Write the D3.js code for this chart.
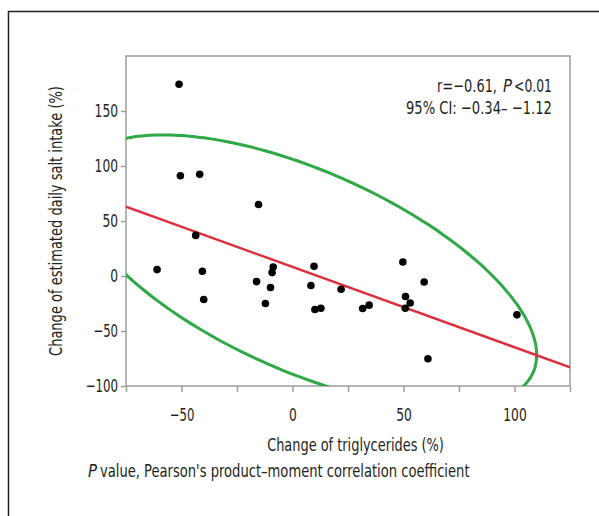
<!DOCTYPE html>
<html lang="en">
<head>
    <meta charset="UTF-8">
    <title>Salt intake vs triglycerides</title>
    <script src="https://d3js.org/d3.v7.min.js"></script>
    <style>
        body { margin: 0; background: #fff; }
        text { font-family: "Liberation Sans Narrow", "DejaVu Sans Condensed", sans-serif; fill: #231f20; }
    </style>
</head>
<body>
<div id="chart"></div>
<script>

    // points: change of triglycerides (%), change of salt intake (%)
    var trigChange = [-51.1, -50.5, -41.8, -15.3, -43.6, -61.0, -40.6, -40.0, -16.2, -9.9,
        -12.2, -8.7, -9.2, 9.7, 8.3, 10.1, 12.8, 21.9, 31.6, 34.5,
        49.7, 50.9, 50.8, 53.0, 59.3, 61.0, 101.1];
    var saltChange = [174.3, 91.2, 92.4, 65.0, 36.9, 5.8, 4.3, -21.4, -5.1, -10.5,
        -25.0, 8.2, 3.1, 8.8, -8.7, -30.4, -29.3, -12.0, -29.5, -26.5,
        12.7, -18.7, -29.3, -24.5, -5.4, -75.2, -35.3];

    // fitted line and density ellipse (center, half extents, correlation)
    var fitLine = {slope: -0.73, intercept: 8.25};
    var ellipse = {cx: 5.7, cy: 4.3, rx: 104.3, ry: 124, r: -0.614};

    var xTicks = [-75, -50, -25, 0, 25, 50, 75, 100, 125];
    var xLabels = [-50, 0, 50, 100];
    var yTicks = [-100, -50, 0, 50, 100, 150];

    var W = 599, H = 516;
    var margin = {top: 56, right: 29, bottom: 130, left: 126};

    // squeeze a label sideways to the narrow width of the original typeface
    function narrow(sel, len, rot) {
        var node = sel.node();
        var px = +sel.attr("x") || 0, py = +sel.attr("y") || 0;
        var k = len / node.getComputedTextLength();
        sel.attr("x", 0).attr("y", 0)
            .attr("transform", "translate(" + px + "," + py + ")" + (rot ? " rotate(" + rot + ")" : "") + " scale(" + k + ",1)");
    }
    function numWidth(s) {
        var w = 0;
        for (var i = 0; i < s.length; i++) w += (s[i] === "\u2212") ? 9 : 7.8;
        return w;
    }
    function label(px, py, str, len, italic) {
        var t = svg.append("text")
            .attr("x", px)
            .attr("y", py)
            .style("font-size", "18px")
            .text(str);
        if (italic) t.style("font-style", "italic");
        narrow(t, len);
        return t;
    }

    var svg = d3.select("#chart")
        .append("svg")
        .attr("width", W)
        .attr("height", H);

    // outer frame
    svg.append("rect")
        .attr("x", 8.5).attr("y", 11.5)
        .attr("width", 620).attr("height", 540)
        .attr("fill", "none")
        .attr("stroke", "#231f20")
        .attr("stroke-width", 1.5);

    var x = d3.scaleLinear()
        .domain([-75, 125])
        .range([margin.left, W - margin.right]);
    var y = d3.scaleLinear()
        .domain([-100, 200])
        .range([H - margin.bottom, margin.top]);

    svg.append("clipPath")
        .attr("id", "plotclip")
        .append("rect")
        .attr("x", x(-75)).attr("y", y(200))
        .attr("width", x(125) - x(-75))
        .attr("height", y(-100) - y(200));

    // axes
    var xAxis = svg.append("g")
        .attr("transform", "translate(0," + y(-100) + ")")
        .call(d3.axisBottom(x)
            .tickValues(xTicks)
            .tickSize(6)
            .tickSizeOuter(0)
            .tickFormat(function (d) {
                return xLabels.indexOf(d) >= 0 ? d3.format("")(d) : "";
            }));
    svg.selectAll(".tick text").attr("font-family", null);
    xAxis.selectAll("text")
        .attr("dy", null)
        .attr("y", 35)
        .style("font-size", "18px")
        .each(function () {
            var t = d3.select(this), s = t.text();
            if (s) narrow(t, numWidth(s));
        });

    var yAxis = svg.append("g")
        .attr("transform", "translate(" + x(-75) + ",0)")
        .call(d3.axisLeft(y)
            .tickValues(yTicks)
            .tickSize(5)
            .tickSizeOuter(0));
    yAxis.selectAll("text")
        .attr("font-family", null)
        .attr("x", -8)
        .style("font-size", "18px")
        .each(function () {
            var t = d3.select(this);
            narrow(t, numWidth(t.text()));
        });

    svg.selectAll(".domain").remove();
    svg.selectAll(".tick line").attr("stroke", "#9d9d9d").attr("stroke-width", 1.5);

    // plot frame
    svg.append("rect")
        .attr("x", x(-75)).attr("y", y(200))
        .attr("width", x(125) - x(-75))
        .attr("height", y(-100) - y(200))
        .attr("fill", "none")
        .attr("stroke", "#9d9d9d")
        .attr("stroke-width", 1.5);

    var plot = svg.append("g").attr("clip-path", "url(#plotclip)");

    // density ellipse
    var angles = d3.range(0, 361, 2).map(function (a) { return a * Math.PI / 180; });
    var ellPts = angles.map(function (t) {
        return [ellipse.cx + ellipse.rx * Math.cos(t),
            ellipse.cy + ellipse.ry * (ellipse.r * Math.cos(t) + Math.sqrt(1 - ellipse.r * ellipse.r) * Math.sin(t))];
    });
    plot.append("path")
        .datum(ellPts)
        .attr("fill", "none")
        .attr("stroke", "#2fa946")
        .attr("stroke-width", 3)
        .attr("d", d3.line()
            .x(function (d) { return x(d[0]); })
            .y(function (d) { return y(d[1]); })
            .curve(d3.curveBasisClosed));

    // regression line
    plot.append("line")
        .attr("x1", x(-75)).attr("y1", y(fitLine.intercept + fitLine.slope * -75))
        .attr("x2", x(125)).attr("y2", y(fitLine.intercept + fitLine.slope * 125))
        .attr("stroke", "#de2f3f")
        .attr("stroke-width", 2.5);

    // points
    svg.append("g")
        .selectAll("circle")
        .data(trigChange)
        .enter()
        .append("circle")
        .attr("cx", function (d) { return x(d); })
        .attr("cy", function (d, i) { return y(saltChange[i]); })
        .attr("r", 3.8)
        .attr("fill", "#000");

    // annotation, pieces laid side by side
    label(437, 92, "r=\u22120.61,", 60);
    label(503, 92, "P", 9, true);
    label(514, 92, "<0.01", 38);
    label(406, 114, "95% CI: \u22120.34\u2013 \u22121.12", 146);

    // axis titles
    var xTitle = svg.append("text")
        .attr("x", 355.5)
        .attr("y", 451)
        .attr("text-anchor", "middle")
        .style("font-size", "18px")
        .text("Change of triglycerides (%)");
    narrow(xTitle, 177);

    var yTitle = svg.append("text")
        .attr("x", 62)
        .attr("y", (y(200) + y(-100)) / 2)
        .attr("text-anchor", "middle")
        .style("font-size", "18px")
        .text("Change of estimated daily salt intake (%)");
    narrow(yTitle, 270, -90);

    // footnote
    label(88, 477, "P", 9, true);
    label(100, 477, "value, Pearson's product\u2013moment correlation coefficient", 370);

</script>
</body>
</html>
